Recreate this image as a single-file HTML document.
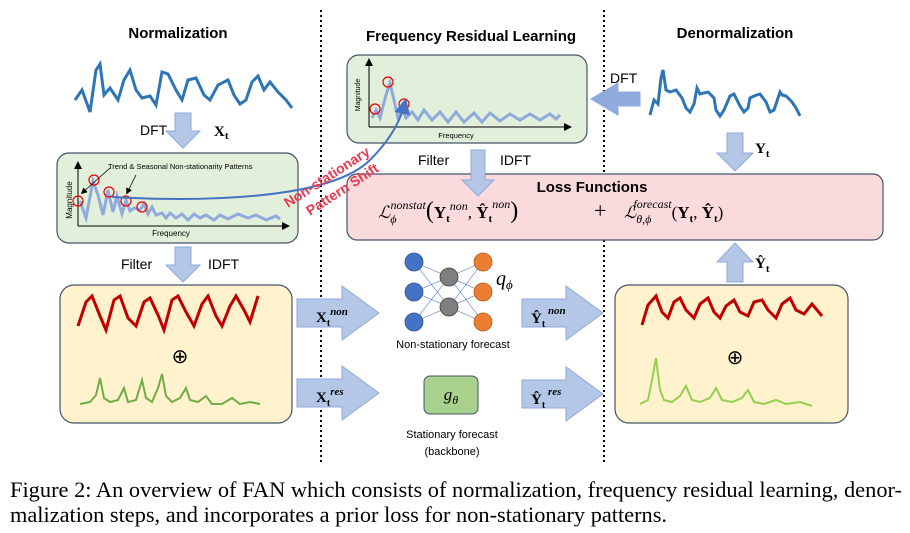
<!DOCTYPE html>
<html><head><meta charset="utf-8"><style>
html,body{margin:0;padding:0;background:#fff;width:910px;height:533px;overflow:hidden}
svg{display:block}
text{font-family:"Liberation Sans",sans-serif}
.s{font-family:"Liberation Serif",serif}
</style></head><body>
<svg width="910" height="533" viewBox="0 0 910 533">
<defs>
<marker id="ah" markerWidth="8" markerHeight="8" refX="6" refY="4" orient="auto"><path d="M0,0 L8,4 L0,8 z" fill="#000"/></marker>
<marker id="bh" markerWidth="8" markerHeight="8" refX="6" refY="4" orient="auto"><path d="M0,0 L8,4 L0,8 z" fill="#4472c4"/></marker>
</defs>
<text x="178" y="38" font-size="15" font-weight="bold" text-anchor="middle">Normalization</text>
<text x="471" y="41" font-size="15" font-weight="bold" text-anchor="middle">Frequency Residual Learning</text>
<text x="735" y="38" font-size="15" font-weight="bold" text-anchor="middle">Denormalization</text>
<line x1="321" y1="10" x2="321" y2="462" stroke="#000" stroke-width="2" stroke-dasharray="2,3"/>
<line x1="604" y1="10" x2="604" y2="462" stroke="#000" stroke-width="2" stroke-dasharray="2,3"/>

<polyline fill="none" stroke="#2e75b6" stroke-width="3" points="75,100 82,90 90,112 96,70 100,64 104,95 110,88 118,100 124,80 130,70 136,90 142,98 150,96 156,105 162,72 168,74 176,90 182,100 188,80 196,78 204,95 210,100 218,85 228,80 234,95 240,104 246,100 252,82 258,76 264,90 270,82 278,92 286,100 292,108"/>
<path d="M175,113 h16 v18 h9 l-17,17 l-17,-17 h9 z" fill="#b4c7e7" stroke="#8faadc"/>
<text x="140" y="135" font-size="14">DFT</text>
<text x="214" y="136" font-size="15" font-weight="bold" class="s">X<tspan font-size="11" dy="3">t</tspan></text>

<rect x="57" y="153" width="241" height="90" rx="12" fill="#e2efda" stroke="#44546a" stroke-width="1.2"/>
<line x1="78" y1="226" x2="78" y2="163" stroke="#000" marker-end="url(#ah)"/>
<line x1="78" y1="226" x2="288" y2="226" stroke="#000" marker-end="url(#ah)"/>
<text x="72" y="200" font-size="8" transform="rotate(-90 72 200)" text-anchor="middle">Magnitude</text>
<text x="171" y="236" font-size="8" text-anchor="middle">Frequency</text>
<polyline fill="none" stroke="#8faadc" stroke-width="3" points="80,201 86,218 93,181 98,195 103,215 108,190 113,212 117,196 122,214 126,200 130,211 134,208 140,210 144,204 148,214 152,207 156,215 162,213 166,218 170,213 176,218 182,214 188,220 194,214 200,218 206,215 214,220 220,215 228,219 238,214 248,218 256,215 266,220 276,216 280,219"/>
<g fill="none" stroke="#e00" stroke-width="1.2"><circle cx="78" cy="201" r="5"/><circle cx="94" cy="180" r="5"/><circle cx="109" cy="192" r="5"/><circle cx="126" cy="201" r="5"/><circle cx="142" cy="207" r="5"/></g>
<text x="108" y="169" font-size="7.5">Trend &amp; Seasonal Non-stationarity Patterns</text>
<line x1="110" y1="168" x2="82" y2="193" stroke="#000" stroke-width="0.8" marker-end="url(#ah)"/>
<line x1="136" y1="175" x2="127" y2="193" stroke="#000" stroke-width="0.8" marker-end="url(#ah)"/>

<path d="M175,247 h16 v18 h9 l-17,17 l-17,-17 h9 z" fill="#b4c7e7" stroke="#8faadc"/>
<text x="121" y="269" font-size="14">Filter</text>
<text x="208" y="269" font-size="14">IDFT</text>

<rect x="60" y="285" width="232" height="138" rx="14" fill="#fff2cc" stroke="#44546a" stroke-width="1.2"/>
<polyline fill="none" stroke="#c00000" stroke-width="3" points="78,326 86,302 92,296 100,316 106,330 114,300 120,296 128,318 136,326 144,302 150,298 158,315 164,330 172,300 178,296 186,312 194,326 202,304 208,296 216,316 222,326 230,306 236,296 244,310 250,322 258,296"/>
<text x="180" y="363" font-size="20" text-anchor="middle">⊕</text>
<polyline fill="none" stroke="#70ad47" stroke-width="2" points="80,404 90,402 96,395 100,378 104,398 110,402 118,400 124,388 128,402 136,400 142,380 146,398 152,402 158,388 162,374 166,396 172,402 180,398 186,388 190,400 198,402 206,396 212,404 222,404 232,398 240,404 250,402 260,404"/>

<path d="M297,299 h45 v-13 l37,27 l-37,27 v-13 h-45 z" fill="#b4c7e7" stroke="#8faadc"/>
<text x="316" y="322" font-size="15" font-weight="bold" class="s">X<tspan font-size="10" dy="4">t</tspan><tspan font-size="11" dy="-11" font-style="italic">non</tspan></text>
<path d="M297,379 h45 v-13 l37,27 l-37,27 v-13 h-45 z" fill="#b4c7e7" stroke="#8faadc"/>
<text x="316" y="402" font-size="15" font-weight="bold" class="s">X<tspan font-size="10" dy="4">t</tspan><tspan font-size="11" dy="-11" font-style="italic">res</tspan></text>

<g stroke="#4472c4" stroke-width="0.6">
<line x1="414" y1="262" x2="449" y2="277"/><line x1="414" y1="262" x2="449" y2="307"/>
<line x1="414" y1="292" x2="449" y2="277"/><line x1="414" y1="292" x2="449" y2="307"/>
<line x1="414" y1="322" x2="449" y2="277"/><line x1="414" y1="322" x2="449" y2="307"/>
<line x1="449" y1="277" x2="483" y2="262"/><line x1="449" y1="277" x2="483" y2="292"/><line x1="449" y1="277" x2="483" y2="322"/>
<line x1="449" y1="307" x2="483" y2="262"/><line x1="449" y1="307" x2="483" y2="292"/><line x1="449" y1="307" x2="483" y2="322"/>
</g>
<g stroke="#2f528f" stroke-width="0.8">
<circle cx="414" cy="262" r="9" fill="#4472c4"/><circle cx="414" cy="292" r="9" fill="#4472c4"/><circle cx="414" cy="322" r="9" fill="#4472c4"/>
<circle cx="449" cy="277" r="9" fill="#7f7f7f" stroke="#404040"/><circle cx="449" cy="307" r="9" fill="#7f7f7f" stroke="#404040"/>
<circle cx="483" cy="262" r="9" fill="#ed7d31" stroke="#ae5a21"/><circle cx="483" cy="292" r="9" fill="#ed7d31" stroke="#ae5a21"/><circle cx="483" cy="322" r="9" fill="#ed7d31" stroke="#ae5a21"/>
</g>
<text x="496" y="285" font-size="20" font-style="italic" class="s">q<tspan font-size="13" dy="4">ϕ</tspan></text>
<text x="453" y="348" font-size="11" text-anchor="middle">Non-stationary forecast</text>
<rect x="424" y="376" width="54" height="38" rx="6" fill="#a9d18e" stroke="#44546a"/>
<text x="451" y="400" font-size="17" font-style="italic" text-anchor="middle" class="s">g<tspan font-size="12" dy="4">θ</tspan></text>
<text x="452" y="438" font-size="11" text-anchor="middle">Stationary forecast</text>
<text x="452" y="455" font-size="11" text-anchor="middle">(backbone)</text>

<path d="M522,299 h44 v-13 l37,27 l-37,27 v-13 h-44 z" fill="#b4c7e7" stroke="#8faadc"/>
<text x="531" y="323" font-size="15" font-weight="bold" class="s">Ŷ<tspan font-size="10" dy="4">t</tspan><tspan font-size="11" dy="-13" font-style="italic"> non</tspan></text>
<path d="M522,380 h44 v-13 l37,27 l-37,27 v-13 h-44 z" fill="#b4c7e7" stroke="#8faadc"/>
<text x="531" y="404" font-size="15" font-weight="bold" class="s">Ŷ<tspan font-size="10" dy="4">t</tspan><tspan font-size="11" dy="-13" font-style="italic"> res</tspan></text>

<rect x="347" y="55" width="240" height="88" rx="12" fill="#e2efda" stroke="#44546a" stroke-width="1.2"/>
<line x1="369" y1="127" x2="369" y2="60" stroke="#000" marker-end="url(#ah)"/>
<line x1="369" y1="127" x2="570" y2="127" stroke="#000" marker-end="url(#ah)"/>
<text x="360" y="95" font-size="7" transform="rotate(-90 360 95)" text-anchor="middle">Magnitude</text>
<text x="456" y="138" font-size="7.5" text-anchor="middle">Frequency</text>
<polyline fill="none" stroke="#8faadc" stroke-width="3" points="372,118 376,110 380,118 386,95 390,83 394,100 398,118 402,108 406,118 412,112 418,120 424,110 432,120 440,112 448,122 456,112 464,122 474,113 482,122 490,113 500,121 510,114 520,120 530,114 540,120 550,114 556,119 560,115"/>
<g fill="none" stroke="#e00" stroke-width="1.2"><circle cx="375" cy="109" r="5"/><circle cx="388" cy="82" r="5"/><circle cx="404" cy="104" r="5"/></g>
<text x="418" y="165" font-size="14">Filter</text>
<text x="500" y="165" font-size="14">IDFT</text>

<rect x="347" y="174" width="536" height="66" rx="10" fill="#fadadd" stroke="#44546a" stroke-width="1.2"/>
<path d="M471,150 h14 v30 h9 l-16,16 l-16,-16 h9 z" fill="#b4c7e7" stroke="#8faadc"/>
<text x="592" y="192" font-size="15" font-weight="bold" text-anchor="middle">Loss Functions</text>
<text x="378" y="218" font-size="17" class="s"><tspan font-style="italic">ℒ</tspan><tspan font-size="12" dy="5" font-style="italic">ϕ</tspan><tspan font-size="12" dy="-14" dx="-6" font-style="italic">nonstat</tspan><tspan dy="9" font-size="24">(</tspan><tspan font-weight="bold">Y</tspan><tspan font-size="11" dy="4" font-weight="bold">t</tspan><tspan font-size="12" dy="-12" font-style="italic">non</tspan><tspan dy="8">, </tspan><tspan font-weight="bold">Ŷ</tspan><tspan font-size="11" dy="4" font-weight="bold">t</tspan><tspan font-size="12" dy="-14" font-style="italic">non</tspan><tspan dy="10" font-size="24">)</tspan></text>
<text x="594" y="218" font-size="22" class="s">+</text>
<text x="624" y="218" font-size="17" class="s"><tspan font-style="italic">ℒ</tspan><tspan font-size="12" dy="5" font-style="italic">θ,ϕ</tspan><tspan font-size="12" dy="-15" dx="-18" font-style="italic">forecast</tspan><tspan dy="10">(</tspan><tspan font-weight="bold">Y</tspan><tspan font-size="11" dy="4" font-weight="bold">t</tspan><tspan dy="-4">, </tspan><tspan font-weight="bold">Ŷ</tspan><tspan font-size="11" dy="4" font-weight="bold">t</tspan><tspan dy="-4">)</tspan></text>

<path d="M112,197 C200,202 330,200 370,160 C395,135 402,115 405,102" fill="none" stroke="#4472c4" stroke-width="2" marker-end="url(#bh)"/>
<text x="288" y="208" font-size="14" font-weight="bold" fill="#e8384f" transform="rotate(-33 288 208)">Non-stationary</text>
<text x="310" y="216" font-size="14" font-weight="bold" fill="#e8384f" transform="rotate(-33 310 216)">Pattern Shift</text>

<path d="M640,92 h-22 v-9 l-27,16 l27,16 v-9 h22 z" fill="#8faadc" stroke="#8faadc"/>
<text x="610" y="83" font-size="14">DFT</text>
<polyline fill="none" stroke="#2e75b6" stroke-width="3" points="650,115 654,100 658,104 661,78 663,70 666,90 670,92 676,90 682,98 686,108 690,112 694,104 697,88 700,94 708,92 714,98 716,110 720,116 724,110 730,96 734,94 736,98 740,106 744,112 748,108 750,98 754,96 760,94 766,102 770,112 774,110 778,98 780,92 782,95 786,96 792,102 796,108 800,116"/>
<path d="M727,133 h16 v20 h10 l-18,18 l-18,-18 h10 z" fill="#b4c7e7" stroke="#8faadc"/>
<text x="755" y="153" font-size="15" font-weight="bold" class="s">Y<tspan font-size="11" dy="4">t</tspan></text>
<path d="M727,282 h16 v-20 h10 l-18,-19 l-18,19 h10 z" fill="#b4c7e7" stroke="#8faadc"/>
<text x="755" y="268" font-size="15" font-weight="bold" class="s">Ŷ<tspan font-size="11" dy="4">t</tspan></text>

<rect x="615" y="285" width="233" height="138" rx="14" fill="#fff2cc" stroke="#44546a" stroke-width="1.2"/>
<polyline fill="none" stroke="#c00000" stroke-width="3" points="642,325 648,305 656,296 662,312 668,318 674,302 680,298 686,310 694,318 700,304 708,298 714,312 720,318 726,306 734,300 740,312 748,316 754,302 762,300 768,310 776,318 782,304 790,298 796,310 804,314 812,304 822,316"/>
<text x="735" y="364" font-size="20" text-anchor="middle">⊕</text>
<polyline fill="none" stroke="#92d050" stroke-width="2" points="640,404 648,400 652,380 656,358 660,390 664,400 672,402 680,396 686,386 692,400 700,402 710,398 716,388 722,400 732,402 742,398 748,390 754,402 764,404 776,400 786,404 800,402 812,406"/>

<text class="s" x="10" y="497" font-size="22" textLength="892" lengthAdjust="spacingAndGlyphs">Figure 2: An overview of FAN which consists of normalization, frequency residual learning, denor-</text>
<text class="s" x="10" y="522" font-size="22" textLength="657" lengthAdjust="spacingAndGlyphs">malization steps, and incorporates a prior loss for non-stationary patterns.</text>
</svg>
</body></html>
